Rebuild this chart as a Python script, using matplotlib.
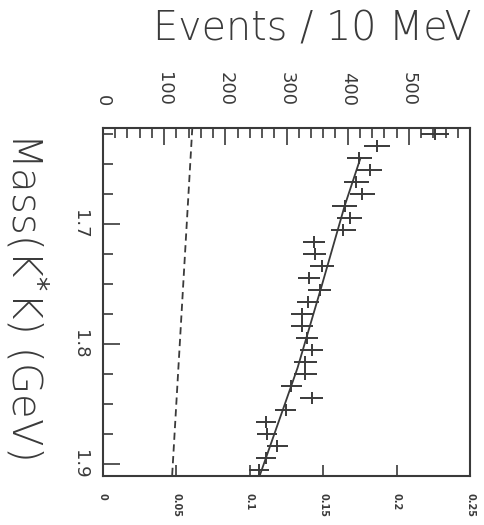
import numpy as np
import matplotlib.pyplot as plt
from matplotlib.ticker import FixedLocator, MultipleLocator

# -------------------------------------------
# K*K mass spectrum (plot is drawn turned 90 degrees, like the scan)
# -------------------------------------------
mass = [1.625, 1.635, 1.645, 1.655, 1.665, 1.675, 1.685, 1.695, 1.705, 1.715,
        1.725, 1.735, 1.745, 1.755, 1.765, 1.775, 1.785, 1.795, 1.805, 1.815,
        1.825, 1.835, 1.845, 1.855, 1.865, 1.875, 1.885, 1.895, 1.905]
events = [543, 448, 419, 436, 414, 424, 395, 403, 393, 345,
          346, 358, 337, 354, 335, 325, 325, 333, 341, 331,
          331, 308, 341, 299, 267, 268, 285, 267, 255]

# fitted curve and dashed background curve
fit_mass = [1.645, 1.685, 1.7525, 1.82, 1.91]
fit_events = [421, 395, 357, 318, 256]
bkg_mass = [1.62, 1.91]
bkg_events = [146, 113]

event_ticks = [0, 100, 200, 300, 400, 500]
event_labels = ["0", "100", "200", "300", "400", "500"]
mass_ticks = [1.7, 1.8, 1.9]
mass_labels = ["1.7", "1.8", "1.9"]
eff_ticks = [0, 0.05, 0.1, 0.15, 0.2, 0.25]
eff_labels = ["0", "0.05", "0.1", "0.15", "0.2", "0.25"]

ink = "#3a3a3a"

fig = plt.figure(figsize=(4.84, 5.25), dpi=100)
ax = fig.add_axes([103 / 484, 1 - 476 / 525, 367 / 484, 348 / 525])

ax.errorbar(events, mass, xerr=np.sqrt(events), yerr=0.005, fmt="none",
            ecolor=ink, elinewidth=1.4, capsize=0)
ax.plot(fit_events, fit_mass, color=ink, lw=1.3)
ax.plot(bkg_events, bkg_mass, color=ink, lw=1.3, dashes=(4, 2.5))

ax.set_xlim(0, 600)
ax.set_ylim(1.91, 1.62)

# events axis on top
ax.xaxis.set_major_locator(FixedLocator(event_ticks))
ax.xaxis.set_minor_locator(MultipleLocator(20))
ax.set_xticklabels(event_labels)
ax.tick_params(axis="x", which="both", direction="in", top=True, bottom=False,
               labeltop=True, labelbottom=False, color=ink, width=1.2)
ax.tick_params(axis="x", which="major", length=12, pad=16, labelsize=13,
               labelrotation=-90, labelcolor=ink)
ax.tick_params(axis="x", which="minor", length=7)

# mass axis on the left
ax.yaxis.set_major_locator(FixedLocator(mass_ticks))
ax.yaxis.set_minor_locator(MultipleLocator(0.025))
ax.set_yticklabels(mass_labels)
ax.tick_params(axis="y", which="both", direction="in", left=True, right=False,
               color=ink, width=1.2)
ax.tick_params(axis="y", which="major", length=12, pad=10, labelsize=13,
               labelrotation=-90, labelcolor=ink)
ax.tick_params(axis="y", which="minor", length=7)
for lab in ax.get_yticklabels():
    lab.set_va("center")

# small secondary scale along the bottom
sec = ax.secondary_xaxis("bottom", functions=(lambda x: x / 2400, lambda x: x * 2400))
sec.set_xticks(eff_ticks)
sec.set_xticklabels(eff_labels)
sec.tick_params(direction="in", length=8, width=1.2, color=ink, pad=12,
                labelsize=7, labelrotation=-90, labelcolor=ink)
for lab in sec.get_xticklabels():
    lab.set_fontweight("bold")
sec.spines["bottom"].set_visible(False)

for s in ax.spines.values():
    s.set_color(ink)
    s.set_linewidth(1.5)

fig.text(312 / 484, 1 - 40 / 525, "Events / 10 MeV", fontsize=28.5, color=ink,
         fontweight="light", ha="center", va="baseline")
fig.text(27 / 484, 1 - 295 / 525, "Mass(K$^{*}$K) (GeV)", fontsize=29, color=ink,
         fontweight="light", rotation=-90, ha="center", va="center")

fig.savefig("out.png", dpi=100)
